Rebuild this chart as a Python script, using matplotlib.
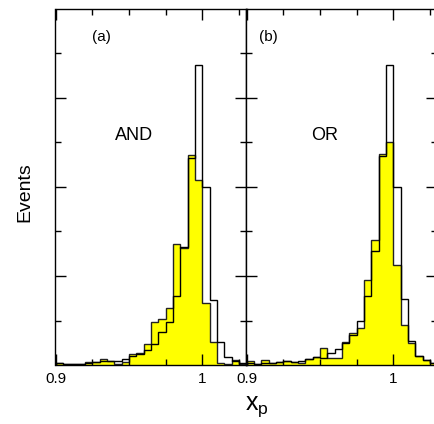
import numpy as np
import matplotlib
matplotlib.use("Agg")
import matplotlib.pyplot as plt
from matplotlib.ticker import FixedLocator, NullFormatter

plt.rcParams['font.family'] = ['Liberation Sans', 'DejaVu Sans']

# bin edges: 0.9 .. 1.03 in steps of 0.005
bin_start = 0.9
bin_width = 0.005
n_bins = 26

# Panel (a) AND
and_yellow = [2, 1, 1, 1.5, 3, 3, 6.7, 4, 1, 3.4, 12, 14, 24, 48, 52, 64,
              136, 131, 236, 208, 70, 26, 2, 1, 5.6, 1.5]
and_white = [2, 1, 1, 1.5, 2, 3, 4.5, 5, 5, 6.7, 10, 12, 16.5, 24, 37, 48,
             77, 133, 233, 337, 199.5, 73, 26, 9, 4, 2]

# Panel (b) OR
or_yellow = [5, 1, 5.6, 2, 3, 4, 3.7, 2, 6.7, 8.6, 19, 8, 8, 26, 36, 42,
             95.5, 140.5, 237, 250, 112.4, 45, 24.4, 10.5, 5.6, 2]
or_white = [2, 1, 2, 2, 3, 4, 3.7, 4.5, 6.7, 8.6, 8, 14, 18, 25, 34, 49,
            77, 128, 235, 337, 200, 74, 27, 10.5, 5.6, 2]

panel_tags = ['(a)', '(b)']
panel_names = ['AND', 'OR']
xtick_major = [0.9, 1.0]
xtick_labels = ['0.9', '1']
xtick_minor = [0.925, 0.95, 0.975, 1.025]
ytick_major = [100, 200, 300]
ytick_minor = [50, 150, 250, 350]

edges = bin_start + bin_width * np.arange(n_bins + 1)

W, H = 435, 424
fig = plt.figure(figsize=(W / 100, H / 100), dpi=100)

bottom = 1 - 365 / H
height = 356 / H
ax1 = fig.add_axes([55.5 / W, bottom, 191 / W, height])
ax2 = fig.add_axes([246.5 / W, bottom, 191 / W, height])

data = [(and_yellow, and_white), (or_yellow, or_white)]
tag_pos = [(101, 37), (268.5, 37)]
name_pos = [(134, 136), (325, 136)]

for i, ax in enumerate([ax1, ax2]):
    yel, wht = data[i]
    ax.stairs(yel, edges, fill=True, facecolor='#ffff00', edgecolor='#222222',
              linewidth=1.0, baseline=0)
    ax.stairs(wht, edges, fill=False, color='black', linewidth=1.0, baseline=0)
    ax.set_xlim(0.9, 1.03)
    ax.set_ylim(0, 400)
    ax.xaxis.set_major_locator(FixedLocator(xtick_major))
    ax.set_xticklabels(xtick_labels)
    ax.xaxis.set_minor_locator(FixedLocator(xtick_minor))
    ax.yaxis.set_major_locator(FixedLocator(ytick_major))
    ax.yaxis.set_minor_locator(FixedLocator(ytick_minor))
    ax.yaxis.set_major_formatter(NullFormatter())
    ax.tick_params(which='both', direction='in', top=True, right=True,
                   bottom=True, left=True, width=1.0, colors='black')
    ax.tick_params(which='major', length=8, labelsize=11, pad=5)
    ax.tick_params(which='minor', length=4)
    for sp in ax.spines.values():
        sp.set_linewidth(1.0)
    tx, ty = tag_pos[i]
    fig.text(tx / W, 1 - ty / H, panel_tags[i], ha='center', va='center', fontsize=11)
    nx, ny = name_pos[i]
    fig.text(nx / W, 1 - ny / H, panel_names[i], ha='center', va='center', fontsize=13)

fig.text(25 / W, 1 - 192 / H, 'Events', rotation=90, ha='center', va='center', fontsize=14)
fig.text(257 / W, 1 - 407 / H, r'x$_\mathregular{p}$', ha='center', va='center', fontsize=18)

fig.savefig('out.png', dpi=100)
